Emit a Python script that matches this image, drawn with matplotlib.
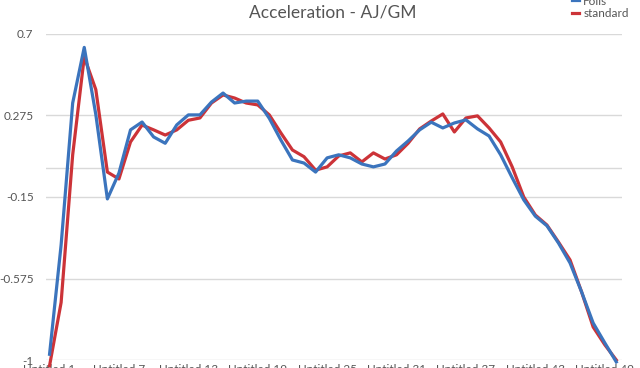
import numpy as np
import matplotlib
matplotlib.use("Agg")
import matplotlib.pyplot as plt

plt.rcParams['font.family'] = ['Lato', 'DejaVu Sans']
plt.rcParams['axes.unicode_minus'] = False

# values, one per sample
foils = [-0.97, -0.40, 0.34, 0.63, 0.28, -0.16, -0.025, 0.20, 0.241, 0.163,
         0.13, 0.226, 0.278, 0.278, 0.345, 0.392, 0.34, 0.35, 0.35, 0.26,
         0.147, 0.043, 0.027, -0.02, 0.054, 0.07, 0.054, 0.022, 0.007, 0.022,
         0.09, 0.142, 0.20, 0.24, 0.21, 0.236, 0.252, 0.205, 0.168, 0.07,
         -0.05, -0.165, -0.25, -0.30, -0.39, -0.494, -0.645, -0.807, -0.91, -1.01]
standard = [-1.03, -0.70, 0.07, 0.58, 0.41, -0.02, -0.056, 0.137, 0.225, 0.20,
            0.173, 0.20, 0.25, 0.262, 0.34, 0.382, 0.366, 0.34, 0.33, 0.278,
            0.184, 0.095, 0.06, -0.01, 0.007, 0.064, 0.08, 0.033, 0.08, 0.048,
            0.07, 0.13, 0.205, 0.246, 0.283, 0.189, 0.262, 0.273, 0.21, 0.137,
            0.007, -0.15, -0.244, -0.296, -0.385, -0.478, -0.645, -0.828, -0.92, -1.0]
labels = ["Untitled %d" % (i + 1) for i in range(len(foils))]
yticks = [0.7, 0.275, -0.15, -0.575, -1]

x = np.arange(len(foils))

fig = plt.figure(figsize=(6.4, 3.68), dpi=100)
ax = fig.add_axes([0.072, 0.0217, 0.9, 0.886])

for yv in yticks + [0]:
    ax.axhline(yv, color='#d9d9d9', lw=1, zorder=0)

ax.plot(x, foils, color='#3b74bd', lw=2.3, label='Foils', clip_on=False, zorder=3)
ax.plot(x, standard, color='#cc3338', lw=2.3, label='standard', clip_on=False, zorder=2)

ax.set_ylim(-1, 0.7)
ax.set_xlim(-0.3, len(foils) - 0.5)
ax.set_yticks(yticks)
ax.set_yticklabels(['0.7', '0.275', '-0.15', '-0.575', '-1'])
ax.set_xticks(x[::6])
ax.set_xticklabels(labels[::6])
ax.tick_params(axis='both', length=0, labelsize=8.5, colors='#555555')
ax.tick_params(axis='x', pad=3)
ax.tick_params(axis='y', pad=9)
for s in ax.spines.values():
    s.set_visible(False)

fig.text(0.52, 0.965, 'Acceleration - AJ/GM', ha='center', va='center',
         fontsize=12.5, color='#555555')

fig.legend(loc='upper left', bbox_to_anchor=(0.893, 1.012),
           frameon=False, fontsize=8.5, handlelength=0.65, handletextpad=0.35,
           labelspacing=0.12, borderpad=0, borderaxespad=0, labelcolor='#555555')

fig.savefig('out.png', dpi=100)
